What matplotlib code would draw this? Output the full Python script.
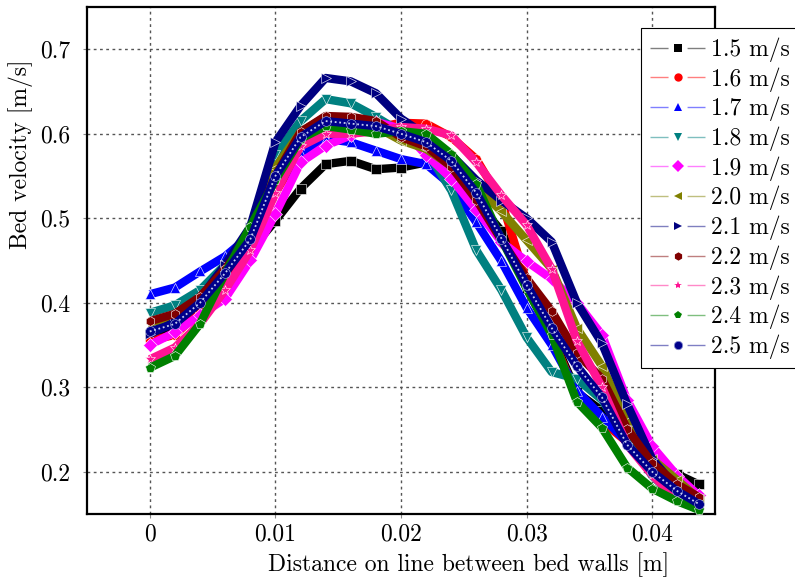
import matplotlib
matplotlib.use("Agg")
import matplotlib.pyplot as plt
from matplotlib.lines import Line2D
from matplotlib.colors import to_rgba

plt.rcParams['font.family'] = 'serif'
plt.rcParams['font.serif'] = ['cmr10']
plt.rcParams['mathtext.fontset'] = 'cm'
plt.rcParams['axes.formatter.use_mathtext'] = True

# distance along the line between the bed walls [m]
x = [0.0, 0.002, 0.004, 0.006, 0.008, 0.010, 0.012, 0.014, 0.016, 0.018, 0.020, 0.022,
     0.024, 0.026, 0.028, 0.030, 0.032, 0.034, 0.036, 0.038, 0.040, 0.042, 0.0437]

labels = ["1.5 m/s", "1.6 m/s", "1.7 m/s", "1.8 m/s", "1.9 m/s", "2.0 m/s",
          "2.1 m/s", "2.2 m/s", "2.3 m/s", "2.4 m/s", "2.5 m/s"]

v15 = [0.361, 0.372, 0.393, 0.425, 0.462, 0.497, 0.535, 0.564, 0.568, 0.558, 0.560, 0.566,
       0.550, 0.520, 0.485, 0.417, 0.362, 0.294, 0.272, 0.245, 0.217, 0.197, 0.185]
v16 = [0.355, 0.362, 0.390, 0.425, 0.470, 0.530, 0.580, 0.600, 0.603, 0.607, 0.613, 0.612,
       0.596, 0.570, 0.520, 0.425, 0.360, 0.290, 0.260, 0.235, 0.205, 0.180, 0.168]
v17 = [0.410, 0.418, 0.437, 0.455, 0.480, 0.535, 0.576, 0.594, 0.590, 0.580, 0.570, 0.564,
       0.539, 0.495, 0.449, 0.394, 0.350, 0.296, 0.265, 0.235, 0.205, 0.180, 0.163]
v18 = [0.388, 0.397, 0.415, 0.445, 0.480, 0.575, 0.615, 0.641, 0.636, 0.620, 0.602, 0.580,
       0.533, 0.462, 0.415, 0.359, 0.318, 0.310, 0.285, 0.240, 0.195, 0.168, 0.155]
v19 = [0.350, 0.365, 0.385, 0.405, 0.450, 0.505, 0.566, 0.586, 0.598, 0.614, 0.606, 0.575,
       0.547, 0.510, 0.472, 0.449, 0.428, 0.400, 0.362, 0.285, 0.230, 0.195, 0.172]
v20 = [0.368, 0.380, 0.405, 0.440, 0.482, 0.560, 0.602, 0.620, 0.617, 0.608, 0.592, 0.582,
       0.562, 0.537, 0.508, 0.474, 0.440, 0.370, 0.325, 0.260, 0.215, 0.190, 0.168]
v21 = [0.363, 0.377, 0.405, 0.445, 0.490, 0.590, 0.633, 0.666, 0.662, 0.648, 0.618, 0.598,
       0.575, 0.545, 0.521, 0.500, 0.472, 0.400, 0.352, 0.280, 0.215, 0.180, 0.163]
v22 = [0.378, 0.387, 0.407, 0.440, 0.478, 0.550, 0.602, 0.621, 0.620, 0.615, 0.596, 0.585,
       0.561, 0.522, 0.474, 0.429, 0.390, 0.340, 0.310, 0.251, 0.210, 0.185, 0.170]
v23 = [0.333, 0.347, 0.375, 0.415, 0.462, 0.530, 0.585, 0.600, 0.600, 0.603, 0.608, 0.606,
       0.598, 0.566, 0.527, 0.492, 0.440, 0.355, 0.300, 0.232, 0.196, 0.167, 0.157]
v24 = [0.323, 0.337, 0.375, 0.435, 0.490, 0.545, 0.594, 0.609, 0.605, 0.600, 0.603, 0.600,
       0.576, 0.540, 0.475, 0.417, 0.362, 0.283, 0.252, 0.205, 0.180, 0.165, 0.155]
v25 = [0.366, 0.375, 0.400, 0.435, 0.475, 0.550, 0.596, 0.615, 0.612, 0.609, 0.600, 0.590,
       0.568, 0.530, 0.476, 0.421, 0.370, 0.325, 0.288, 0.232, 0.200, 0.177, 0.162]

series = [v15, v16, v17, v18, v19, v20, v21, v22, v23, v24, v25]
colors = ['black', 'red', 'blue', '#008080', '#ff00ff', '#808000',
          '#000080', '#800000', '#ff1493', '#008000', '#00008b']
markers = ['s', 'o', '^', 'v', 'D', '<', '>', 'h', '*', 'p', 'o']

fig = plt.figure(figsize=(7.95, 5.79), dpi=100)
ax = fig.add_axes([0.1094, 0.1123, 0.790, 0.8756])

handles = []
for i, (vals, c, m) in enumerate(zip(series, colors, markers)):
    # thick band like the densely marked curves
    ax.plot(x, vals, color=c, lw=6.0, solid_joinstyle='round',
            solid_capstyle='butt', zorder=2 + i)
    ec = '#b0b8e0' if i == 10 else 'white'
    ax.plot(x, vals, ls='none', marker=m, ms=7, color=c, mec=ec, mew=0.4, zorder=2 + i)
    if i == 10:
        ax.plot(x, vals, color='#c8d0f0', lw=1.3, ls=(0, (1, 1.5)), zorder=2 + i)
    handles.append(Line2D([], [], color=to_rgba(c, 0.5), lw=1.0, ls=(0, (13, 13.7)),
                          marker=m, ms=6, mfc=c, mec=c if i != 10 else '#8890d0',
                          mew=0.6 if i == 10 else 0.0))

ax.set_xlim(-0.005, 0.045)
ax.set_ylim(0.15, 0.75)
ax.set_xticks([0, 0.01, 0.02, 0.03, 0.04])
ax.set_xticklabels(['0', '0.01', '0.02', '0.03', '0.04'])
ax.set_yticks([0.2, 0.3, 0.4, 0.5, 0.6, 0.7])
ax.set_yticklabels(['0.2', '0.3', '0.4', '0.5', '0.6', '0.7'])
ax.tick_params(labelsize=17, length=3, width=0.8, color='#888888')
ax.tick_params(axis='x', pad=4)
ax.tick_params(axis='y', pad=9)
ax.grid(True, color='#555555', ls=(0, (2, 2.5)), lw=1.0)
ax.set_axisbelow(True)
for sp in ax.spines.values():
    sp.set_linewidth(1.6)

ax.set_xlabel("Distance on line between bed walls [m]", fontsize=17)
ax.set_ylabel("Bed velocity [m/s]", fontsize=17)
ax.xaxis.set_label_coords(0.608, -0.075)
ax.yaxis.set_label_coords(-0.086, 0.71)

leg = fig.legend(handles, labels, loc='upper left', bbox_to_anchor=(641 / 795, 1 - 28 / 579),
                 bbox_transform=fig.transFigure, borderaxespad=0, fontsize=17,
                 numpoints=1, handlelength=2.33, handletextpad=0.25, labelspacing=0.22,
                 fancybox=False, framealpha=1, edgecolor='black', borderpad=0.4)
leg.get_frame().set_linewidth(0.8)

fig.savefig("out.png", dpi=100)
